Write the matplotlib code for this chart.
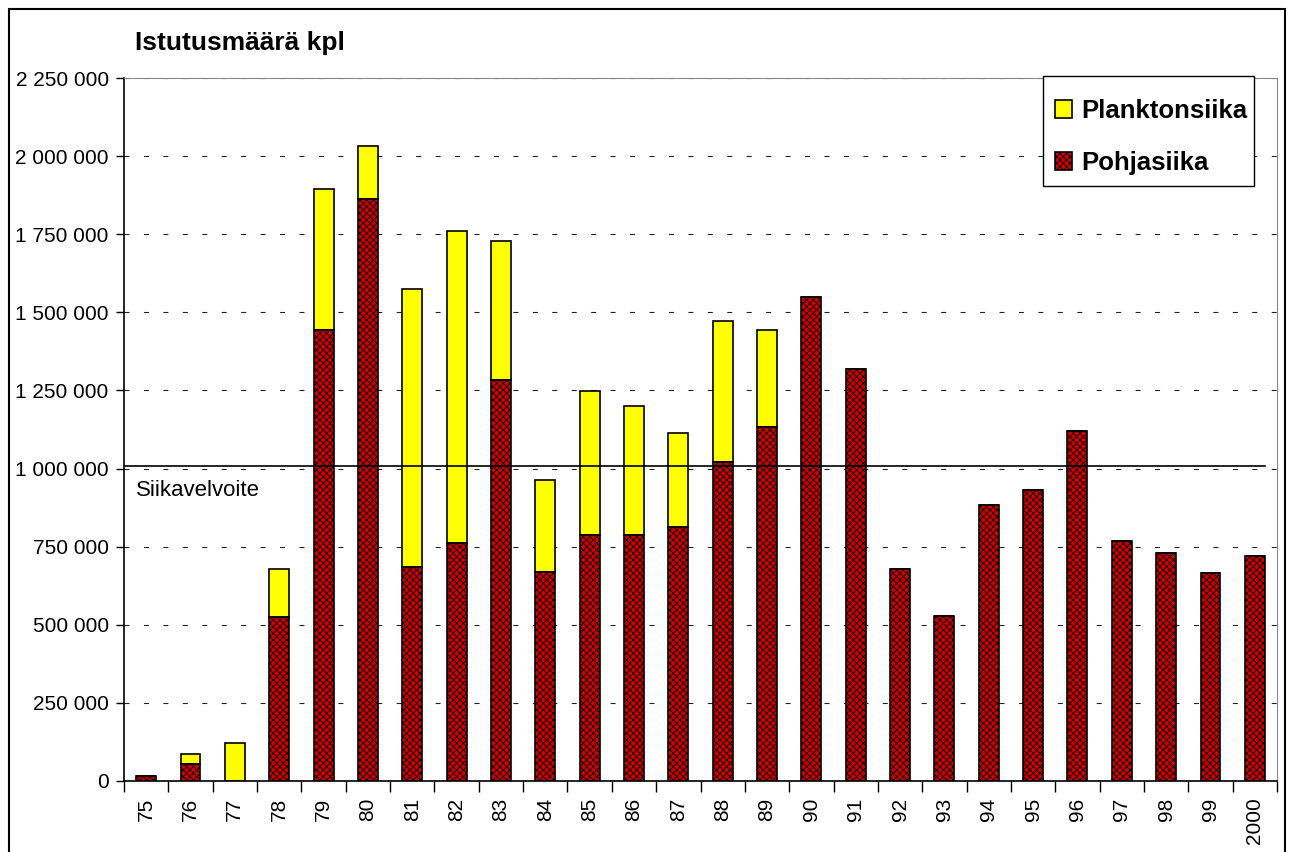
import numpy as np
import matplotlib
matplotlib.use('Agg')
import matplotlib.pyplot as plt
from matplotlib.patches import Rectangle
from matplotlib.ticker import FuncFormatter, FixedLocator

matplotlib.rcParams.update({'font.family': 'Liberation Sans', 'font.size': 15,
                            'hatch.linewidth': 0.6})

years = ['75', '76', '77', '78', '79', '80', '81', '82', '83', '84', '85', '86', '87',
         '88', '89', '90', '91', '92', '93', '94', '95', '96', '97', '98', '99', '2000']
pohjasiika = [15000, 54000, 0, 525000, 1443000, 1863000, 685000, 762000, 1283000,
              669000, 787000, 787000, 813000, 1021000, 1133000, 1548000, 1318000,
              678000, 528000, 883000, 931000, 1120000, 769000, 729000, 667000, 719000]
planktonsiika = [0, 32000, 122000, 153000, 452000, 169000, 890000, 998000, 445000,
                 294000, 461000, 413000, 301000, 451000, 310000, 0, 0,
                 0, 0, 0, 0, 0, 0, 0, 0, 0]
velvoite = 1007000

fig = plt.figure(figsize=(12.9, 8.52), dpi=100)
ax = fig.add_axes([124/1290, 1-781/852, (1277-124)/1290, (781-78)/852])

x = np.arange(len(years))
w = 0.45
ax.bar(x, planktonsiika, w, bottom=pohjasiika, color='#ffff00', edgecolor='black',
       linewidth=1.2, label='Planktonsiika', zorder=3)
ax.bar(x, pohjasiika, w, color='#d00000', edgecolor='black', hatch='xxxxx',
       linewidth=1.2, label='Pohjasiika', zorder=3)

ax.axhline(velvoite, xmin=0, xmax=0.99, color='black', lw=1.2, zorder=4)
ax.annotate('Siikavelvoite', xy=(0.01, velvoite), xycoords=('axes fraction', 'data'),
            xytext=(0, -10), textcoords='offset points', va='top', ha='left', fontsize=16)

ax.set_xlim(-0.5, len(years) - 0.5)
ax.set_ylim(0, 2250000)
ax.set_yticks(np.arange(0, 2250001, 250000))
ax.yaxis.set_major_formatter(FuncFormatter(lambda v, p: f"{int(v):,}".replace(',', ' ')))
ax.set_xticks(x)
ax.set_xticklabels(years, rotation=90)
ax.xaxis.set_minor_locator(FixedLocator(np.arange(-0.5, len(years), 1.0)))
ax.tick_params(axis='x', which='major', length=0, pad=12)
ax.tick_params(axis='x', which='minor', length=8, width=1)
ax.tick_params(axis='y', length=6, width=1, pad=5)

ax.grid(axis='y', color='#222222', lw=0.8, linestyle=(0, (4.5, 13)), zorder=0)
ax.spines['top'].set_color('#888888')
ax.spines['right'].set_color('#888888')
ax.spines['left'].set_linewidth(1.2)
ax.spines['bottom'].set_linewidth(1.2)

fig.text(135/1290, 1-43/852, 'Istutusmäärä kpl', fontsize=19, fontweight='bold', va='center')

# legend box drawn separately so the entries can sit like in the original
ax.add_patch(Rectangle((1043/1290, 1-186/852), (1254-1043)/1290, 110/852,
                       transform=fig.transFigure, facecolor='white',
                       edgecolor='black', lw=1.0, zorder=5, clip_on=False))
leg = ax.legend(loc='upper left', bbox_to_anchor=(1055/1290, 1-99/852),
                bbox_transform=fig.transFigure, frameon=False,
                prop={'weight': 'bold', 'size': 18.5},
                handlelength=0.68, handleheight=0.68, handletextpad=0.35,
                labelspacing=1.09, borderpad=0, borderaxespad=0)
leg.set_zorder(6)

fig.patches.append(Rectangle((9/1290, -0.01), (1285-9)/1290, 1-9/852+0.01,
                             transform=fig.transFigure, fill=False, lw=1.5,
                             edgecolor='black'))

plt.savefig('out.png', dpi=100)
